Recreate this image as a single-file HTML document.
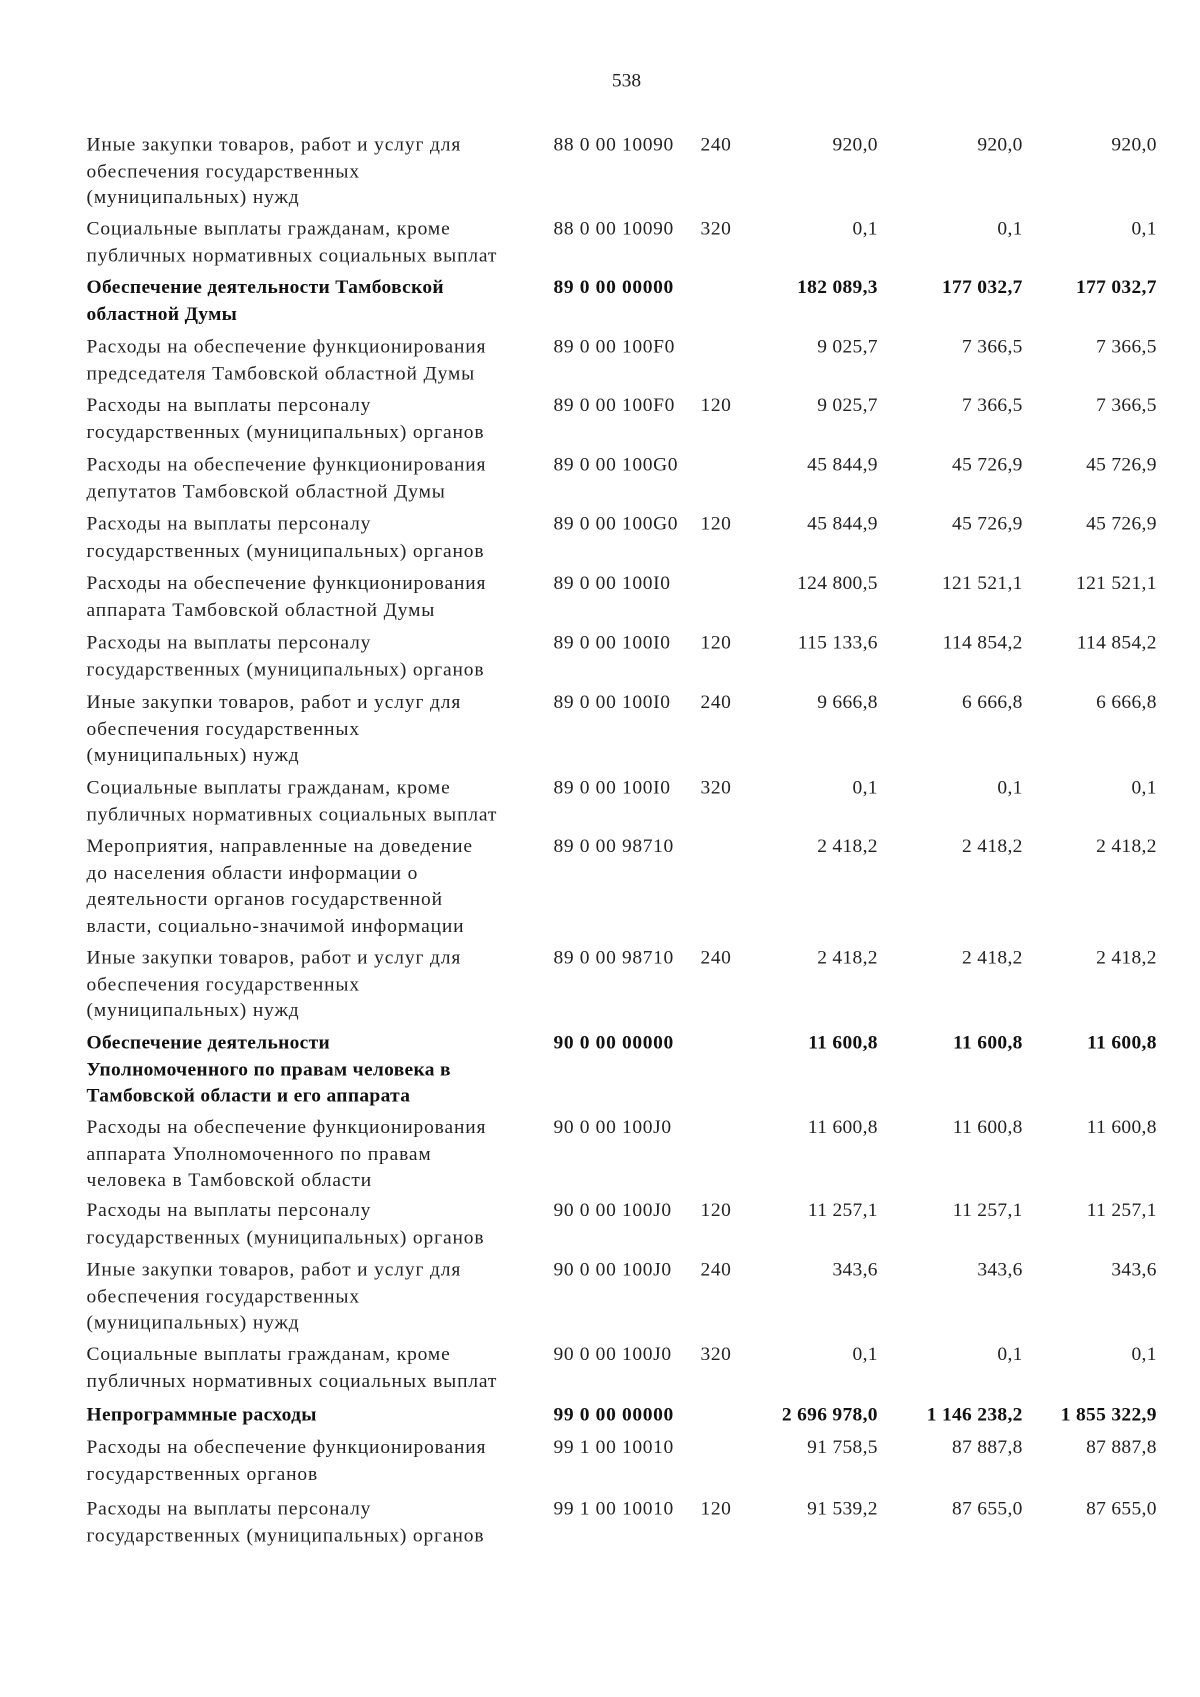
<!DOCTYPE html>
<html><head><meta charset="utf-8"><style>
html,body{margin:0;padding:0;background:#fff;}
body{width:1200px;height:1697px;overflow:hidden;position:relative;}
#p{position:absolute;left:0;top:0;width:1110px;height:1570px;transform:scale(1.0811);transform-origin:0 0;font-family:"Liberation Serif","DejaVu Serif",serif;font-size:18px;color:#222;}
.r{position:absolute;left:0;width:1110px;line-height:24.5px;}
.t{position:absolute;left:80px;width:420px;white-space:nowrap;letter-spacing:0.8px;}
.b .t{letter-spacing:0.3px;}
.c{position:absolute;left:512px;white-space:nowrap;letter-spacing:0.6px;}
.k{position:absolute;left:648px;letter-spacing:0.5px;}
.v1,.v2,.v3{position:absolute;text-align:right;width:150px;white-space:nowrap;letter-spacing:0.3px;}
.v1{left:662px;}.v2{left:796px;}.v3{left:920px;}
.b{font-weight:bold;color:#111;}
</style></head><body><div id="p">
<div style="position:absolute;left:566px;top:64px;">538</div>

<div class="r" style="top:121px"><div class="t">Иные закупки товаров, работ и услуг для<br>обеспечения государственных<br>(муниципальных) нужд</div><div class="c">88 0 00 10090</div><div class="k">240</div><div class="v1">920,0</div><div class="v2">920,0</div><div class="v3">920,0</div></div>
<div class="r" style="top:199px"><div class="t">Социальные выплаты гражданам, кроме<br>публичных нормативных социальных выплат</div><div class="c">88 0 00 10090</div><div class="k">320</div><div class="v1">0,1</div><div class="v2">0,1</div><div class="v3">0,1</div></div>
<div class="r b" style="top:253px"><div class="t">Обеспечение деятельности Тамбовской<br>областной Думы</div><div class="c">89 0 00 00000</div><div class="v1">182 089,3</div><div class="v2">177 032,7</div><div class="v3">177 032,7</div></div>
<div class="r" style="top:308px"><div class="t">Расходы на обеспечение функционирования<br>председателя Тамбовской областной Думы</div><div class="c">89 0 00 100F0</div><div class="v1">9 025,7</div><div class="v2">7 366,5</div><div class="v3">7 366,5</div></div>
<div class="r" style="top:362px"><div class="t">Расходы на выплаты персоналу<br>государственных (муниципальных) органов</div><div class="c">89 0 00 100F0</div><div class="k">120</div><div class="v1">9 025,7</div><div class="v2">7 366,5</div><div class="v3">7 366,5</div></div>
<div class="r" style="top:417px"><div class="t">Расходы на обеспечение функционирования<br>депутатов Тамбовской областной Думы</div><div class="c">89 0 00 100G0</div><div class="v1">45 844,9</div><div class="v2">45 726,9</div><div class="v3">45 726,9</div></div>
<div class="r" style="top:472px"><div class="t">Расходы на выплаты персоналу<br>государственных (муниципальных) органов</div><div class="c">89 0 00 100G0</div><div class="k">120</div><div class="v1">45 844,9</div><div class="v2">45 726,9</div><div class="v3">45 726,9</div></div>
<div class="r" style="top:527px"><div class="t">Расходы на обеспечение функционирования<br>аппарата Тамбовской областной Думы</div><div class="c">89 0 00 100I0</div><div class="v1">124 800,5</div><div class="v2">121 521,1</div><div class="v3">121 521,1</div></div>
<div class="r" style="top:582px"><div class="t">Расходы на выплаты персоналу<br>государственных (муниципальных) органов</div><div class="c">89 0 00 100I0</div><div class="k">120</div><div class="v1">115 133,6</div><div class="v2">114 854,2</div><div class="v3">114 854,2</div></div>
<div class="r" style="top:637px"><div class="t">Иные закупки товаров, работ и услуг для<br>обеспечения государственных<br>(муниципальных) нужд</div><div class="c">89 0 00 100I0</div><div class="k">240</div><div class="v1">9 666,8</div><div class="v2">6 666,8</div><div class="v3">6 666,8</div></div>
<div class="r" style="top:716px"><div class="t">Социальные выплаты гражданам, кроме<br>публичных нормативных социальных выплат</div><div class="c">89 0 00 100I0</div><div class="k">320</div><div class="v1">0,1</div><div class="v2">0,1</div><div class="v3">0,1</div></div>
<div class="r" style="top:770px"><div class="t">Мероприятия, направленные на доведение<br>до населения области информации о<br>деятельности органов государственной<br>власти, социально-значимой информации</div><div class="c">89 0 00 98710</div><div class="v1">2 418,2</div><div class="v2">2 418,2</div><div class="v3">2 418,2</div></div>
<div class="r" style="top:873px"><div class="t">Иные закупки товаров, работ и услуг для<br>обеспечения государственных<br>(муниципальных) нужд</div><div class="c">89 0 00 98710</div><div class="k">240</div><div class="v1">2 418,2</div><div class="v2">2 418,2</div><div class="v3">2 418,2</div></div>
<div class="r b" style="top:952px"><div class="t">Обеспечение деятельности<br>Уполномоченного по правам человека в<br>Тамбовской области и его аппарата</div><div class="c">90 0 00 00000</div><div class="v1">11 600,8</div><div class="v2">11 600,8</div><div class="v3">11 600,8</div></div>
<div class="r" style="top:1030px"><div class="t">Расходы на обеспечение функционирования<br>аппарата Уполномоченного по правам<br>человека в Тамбовской области</div><div class="c">90 0 00 100J0</div><div class="v1">11 600,8</div><div class="v2">11 600,8</div><div class="v3">11 600,8</div></div>
<div class="r" style="top:1107px"><div class="t">Расходы на выплаты персоналу<br>государственных (муниципальных) органов</div><div class="c">90 0 00 100J0</div><div class="k">120</div><div class="v1">11 257,1</div><div class="v2">11 257,1</div><div class="v3">11 257,1</div></div>
<div class="r" style="top:1162px"><div class="t">Иные закупки товаров, работ и услуг для<br>обеспечения государственных<br>(муниципальных) нужд</div><div class="c">90 0 00 100J0</div><div class="k">240</div><div class="v1">343,6</div><div class="v2">343,6</div><div class="v3">343,6</div></div>
<div class="r" style="top:1240px"><div class="t">Социальные выплаты гражданам, кроме<br>публичных нормативных социальных выплат</div><div class="c">90 0 00 100J0</div><div class="k">320</div><div class="v1">0,1</div><div class="v2">0,1</div><div class="v3">0,1</div></div>
<div class="r b" style="top:1296px"><div class="t">Непрограммные расходы</div><div class="c">99 0 00 00000</div><div class="v1">2 696 978,0</div><div class="v2">1 146 238,2</div><div class="v3">1 855 322,9</div></div>
<div class="r" style="top:1326px"><div class="t">Расходы на обеспечение функционирования<br>государственных органов</div><div class="c">99 1 00 10010</div><div class="v1">91 758,5</div><div class="v2">87 887,8</div><div class="v3">87 887,8</div></div>
<div class="r" style="top:1383px"><div class="t">Расходы на выплаты персоналу<br>государственных (муниципальных) органов</div><div class="c">99 1 00 10010</div><div class="k">120</div><div class="v1">91 539,2</div><div class="v2">87 655,0</div><div class="v3">87 655,0</div></div>
</div></body></html>
